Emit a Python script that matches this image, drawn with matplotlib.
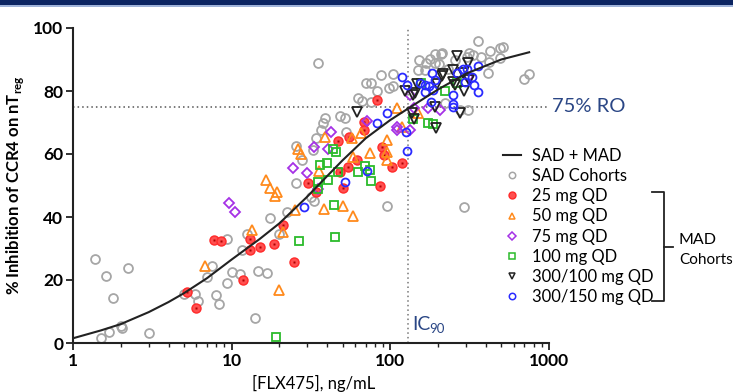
import numpy as np
import matplotlib
matplotlib.use('Agg')
from matplotlib import pyplot as plt
from matplotlib.lines import Line2D
from matplotlib.patches import Rectangle

plt.rcParams['font.family'] = ['Lato', 'DejaVu Sans']
plt.rcParams['mathtext.fontset'] = 'custom'
plt.rcParams['mathtext.rm'] = 'Lato:bold'

# fitted curve
fit_x = [1, 1.5, 2, 3, 4, 5, 7, 10, 15, 20, 30, 40, 50, 70, 100, 130, 200, 300, 500, 750]
fit_y = [1.5, 4.0, 6.0, 9.8, 13.0, 15.8, 20.6, 26.5, 33.0, 38.0, 46.5, 53.0, 58.0, 65.0,
         70.8, 74.5, 80.5, 85.5, 90.0, 92.3]

sad = [(1.38, 26.7), (1.61, 21.3), (2.22, 23.8), (1.79, 14.3), (2.0, 5.4), (2.05, 4.8),
       (1.69, 3.5), (1.50, 1.6), (3.0, 3.2), (5.0, 15.6), (5.9, 15.6), (6.1, 13.3),
       (8.0, 15.2), (8.3, 12.4), (9.3, 19), (10, 22.5), (7.5, 24.4), (7.0, 21), (9.3, 33),
       (11.3, 21.9), (14.6, 22.9), (16.7, 22.2), (14, 7.9), (11.6, 29.5), (12.5, 34.6),
       (19.8, 34.6), (17.4, 39.7), (22.3, 41.6), (31.7, 46.3), (33, 45), (25.4, 50.8),
       (27.7, 58), (25.4, 62.5), (32.5, 61.3), (34, 65), (36.5, 67.6), (37.5, 70),
       (39, 71.4), (48, 72), (52, 71.4), (52.5, 67), (35, 88.9), (95, 43.5), (290, 43.2),
       (87, 85), (104, 85.4), (70, 82.5), (76, 82.5), (82, 80), (98, 81), (104, 81.5),
       (62.5, 77.8), (66, 76.8), (75, 76.5), (152, 90), (167, 88.9), (178, 90.2),
       (190, 91.7), (208, 91.7), (190, 88.9), (202, 88.6), (165, 86.7), (149, 86.7),
       (357, 95.9), (490, 93.7), (510, 94), (425, 92.7), (211, 92), (312, 92), (330, 91.4),
       (375, 90.8), (305, 90.8), (490, 90.5), (418, 89.2), (412, 85.7), (700, 83.8),
       (750, 85.4), (310, 74), (275, 74), (220, 76.2), (230, 87), (255, 90)]

qd25 = [(5.2, 16.2), (6.0, 11.1), (7.7, 32.7), (8.6, 32.4), (11.8, 20), (13, 33), (13, 29.5),
        (15, 30.5), (18.5, 31.4), (21, 37.5), (24.7, 25.7), (30.3, 50.8), (34, 48),
        (46.8, 64.1), (48, 54.3), (50, 49.2), (54, 55.9), (61.5, 58), (86, 49.8), (102, 55.9),
        (118, 57.1), (55, 65.4), (68, 70.2), (68, 67.6), (83, 77.1), (88, 62.2), (91, 59.7)]

qd50 = [(6.8, 24.4), (13.4, 35.9), (16.5, 51.7), (17.4, 49.2), (19.3, 48), (18.8, 46.7),
        (19.8, 16.8), (21, 35.2), (25, 42.2), (26, 61.6), (27.3, 60), (35.6, 54.6), (38, 42.5),
        (39, 65.4), (50, 43.5), (57, 65), (58, 59), (58, 40.3), (65, 66.7), (74, 60.3),
        (95, 60.6), (95, 58), (95, 64.4), (110, 74.6), (118, 68.6), (149, 73)]

qd75 = [(9.6, 44.4), (10.5, 41.6), (24.4, 55.6), (29.8, 54), (33, 62.2), (35, 48.9),
        (40.5, 61.6), (42, 67), (71, 70.5), (110, 68.6), (110, 67.6), (133, 67.6), (133, 78.7),
        (142, 74.6), (172, 74.6), (205, 74), (310, 84.5)]

qd100 = [(19, 1.9), (26.5, 32.4), (35, 51.1), (35, 48.9), (36, 56.5), (40, 57.1), (40.5, 51.7),
         (43.5, 61.6), (45.5, 60.6), (44.2, 43.8), (44.7, 33.7), (47, 54.3), (63, 54.3),
         (69, 56.2), (74, 54.9), (76, 51.4), (138, 71.1), (157, 82.5), (172, 69.8),
         (185, 69.5), (220, 80), (262, 82.5)]

qd300_100 = [(62, 73.3), (123, 80), (137, 73), (138, 78.7), (142, 71.1), (144, 79.4),
             (147, 82.2), (190, 74.9), (194, 68.3), (196, 82.2), (211, 84.8), (214, 85.4),
             (250, 86.7), (250, 82.9), (255, 81.9), (265, 91), (275, 73), (285, 85.7),
             (290, 80), (310, 88.9), (312, 83.5)]

qd300_150 = [(28.5, 43.2), (51.5, 51.1), (71, 54.6), (83, 69.8), (95, 73), (118, 84.4),
             (126, 67), (128, 61), (128, 81.9), (154, 82.5), (165, 79.7), (165, 81.9),
             (175, 81.6), (180, 76.5), (183, 85.7), (185, 80.3), (190, 83.5), (250, 78.7),
             (250, 75.9), (250, 74.9), (265, 85.7), (285, 87), (295, 82.9), (305, 87),
             (325, 84.4), (337, 81.9), (357, 87.9), (357, 79.7)]

ic90 = 130
ro_level = 75
navy = '#2a4685'

fig = plt.figure(figsize=(7.33, 3.92), dpi=100)
ax = fig.add_axes([73 / 733, 49 / 392, 476 / 733, 315 / 392])

# top banner
fig.patches.append(Rectangle((0, 1 - 5 / 392), 1, 5 / 392, transform=fig.transFigure,
                             facecolor='#0b2461', edgecolor='none'))
fig.patches.append(Rectangle((0, 1 - 7 / 392), 1, 2 / 392, transform=fig.transFigure,
                             facecolor='#9fb3d9', edgecolor='none'))

ax.axhline(ro_level, color='#555555', lw=1.1, ls=(0, (1, 2)), zorder=1)
ax.axvline(ic90, color='#777777', lw=1.1, ls=(0, (1, 2)), zorder=1)


def xy(pts):
    a = np.array(pts, dtype=float)
    return a[:, 0], a[:, 1]


ms = 6.4
mew = 1.3
x, y = xy(sad)
ax.plot(x, y, 'o', ms=ms, mfc='none', mec='#a6a6a6', mew=mew, zorder=2)
x, y = xy(qd25)
ax.plot(x, y, 'o', ms=6.5, mfc='#ff5050', mec='#ff2a2a', mew=1.0, zorder=3)
ax.plot(x, y, 's', ms=1.8, mfc='#b00000', mec='none', zorder=3)
x, y = xy(qd50)
ax.plot(x, y, '^', ms=7.0, mfc='none', mec='#ff8a1c', mew=mew, zorder=3)
x, y = xy(qd75)
ax.plot(x, y, 'D', ms=4.6, mfc='none', mec='#a531e6', mew=mew, zorder=3)
x, y = xy(qd100)
ax.plot(x, y, 's', ms=6.0, mfc='none', mec='#2bbb2b', mew=mew, zorder=3)
x, y = xy(qd300_100)
ax.plot(x, y, 'v', ms=6.6, mfc='none', mec='#222222', mew=mew, zorder=3)
x, y = xy(qd300_150)
ax.plot(x, y, 'o', ms=5.7, mfc='none', mec='#2a2aff', mew=mew, zorder=3)

ax.plot(fit_x, fit_y, color='#222222', lw=1.5, zorder=4)

ax.set_xscale('log')
ax.set_xlim(1, 1000)
ax.set_ylim(0, 100)
ax.set_yticks([0, 20, 40, 60, 80, 100])
ax.set_xticks([1, 10, 100, 1000])
ax.set_xticklabels(['1', '10', '100', '1000'])
ax.spines['top'].set_visible(False)
ax.spines['right'].set_visible(False)
for s in ['left', 'bottom']:
    ax.spines[s].set_linewidth(1.5)
    ax.spines[s].set_color('#222222')
ax.tick_params(axis='both', which='major', length=5, width=1.3, labelsize=12.5,
               color='#222222', pad=2)
ax.tick_params(axis='x', which='minor', length=3, width=1.0, color='#222222')
ax.tick_params(axis='y', which='minor', length=0)
for lab in ax.get_xticklabels() + ax.get_yticklabels():
    lab.set_fontweight('bold')

ax.set_ylabel('% Inhibition of CCR4 on nT$_{\\mathrm{reg}}$', fontsize=12, fontweight='bold',
              labelpad=5)
fig.text(314 / 733, 1 - 383 / 392, '[FLX475], ng/mL', fontsize=12, ha='center',
         va='center')

ax.text(1040, ro_level, '75% RO', fontsize=14.5, color=navy, ha='left', va='center',
        clip_on=False)
ax.text(ic90 * 1.05, 6, 'IC', fontsize=14, color=navy, ha='left', va='center')
ax.text(ic90 * 1.36, 4.3, '90', fontsize=9.5, color=navy, ha='left', va='center')

handles = [
    Line2D([], [], color='#222222', lw=1.5),
    Line2D([], [], ls='none', marker='o', ms=4.6, mfc='none', mec='#a6a6a6', mew=1.1),
    Line2D([], [], ls='none', marker='o', ms=5, mfc='#ff5050', mec='#ff2a2a', mew=1.0),
    Line2D([], [], ls='none', marker='^', ms=5, mfc='none', mec='#ff8a1c', mew=1.1),
    Line2D([], [], ls='none', marker='D', ms=3.8, mfc='none', mec='#a531e6', mew=1.1),
    Line2D([], [], ls='none', marker='s', ms=4.5, mfc='none', mec='#2bbb2b', mew=1.1),
    Line2D([], [], ls='none', marker='v', ms=5, mfc='none', mec='#222222', mew=1.1),
    Line2D([], [], ls='none', marker='o', ms=4.6, mfc='none', mec='#2a2aff', mew=1.1),
]
labels = ['SAD + MAD', 'SAD Cohorts', '25 mg QD', '50 mg QD', '75 mg QD', '100 mg QD',
          '300/100 mg QD', '300/150 mg QD']
ax.legend(handles, labels, loc='upper left', bbox_to_anchor=(503 / 733, 1 - 148 / 392),
          bbox_transform=fig.transFigure, frameon=False, borderpad=0, borderaxespad=0,
          handlelength=1.1, handletextpad=0.65, labelspacing=0.25,
          prop={'size': 11.9})

# bracket for the MAD cohorts
bx0, bx1, bxt = 652 / 733, 664 / 733, 673 / 733
by0, by1, bym = 1 - 192 / 392, 1 - 301 / 392, 1 - 247 / 392
fig.add_artist(Line2D([bx0, bx1, bx1, bx0], [by0, by0, by1, by1], color='#222222',
                      lw=1.3, transform=fig.transFigure))
fig.add_artist(Line2D([bx1, bxt], [bym, bym], color='#222222', lw=1.3,
                      transform=fig.transFigure))
fig.text(679 / 733, 1 - 240 / 392, 'MAD', fontsize=11.5, va='center')
fig.text(679 / 733, 1 - 260 / 392, 'Cohorts', fontsize=11, va='center')

fig.savefig('out.png', dpi=100)
